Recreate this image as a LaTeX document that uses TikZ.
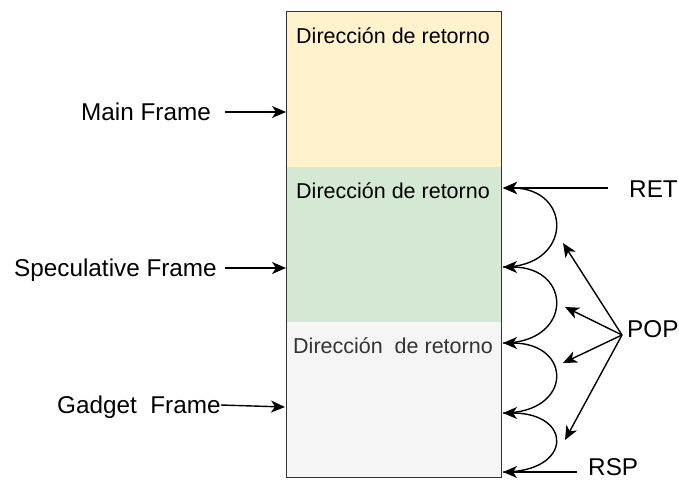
\documentclass[tikz,border=0pt]{standalone}
\usepackage{fontspec}
\setmainfont{Liberation Sans}
\usetikzlibrary{arrows.meta}
\definecolor{frameyellow}{HTML}{FFF2CC}
\definecolor{framegreen}{HTML}{D5E8D4}
\definecolor{framegrey}{HTML}{F5F5F5}
\definecolor{greytext}{HTML}{333333}
\begin{document}
\begin{tikzpicture}[x=1pt,y=-1pt,
  region/.style={draw=none, minimum width=215pt, inner sep=0pt, outer sep=0pt, anchor=north west},
  boxtext/.style={font=\fontsize{21.5}{24}\selectfont, inner sep=0pt, anchor=base},
  tagtext/.style={font=\fontsize{24.3}{28}\selectfont, inner sep=0pt, anchor=base west},
  link/.style={line width=1.4pt, -{Stealth[length=14pt,width=12pt,inset=4pt]}},
]
\useasboundingbox (0,0) rectangle (679,479);

% stack of frames
\node[region, fill=frameyellow, minimum height=156pt] (mainf) at (286,11) {};
\node[region, fill=framegreen, minimum height=155pt] (specf) at (286,167) {};
\node[region, fill=framegrey, minimum height=155pt] (gadf) at (286,322) {};
\draw[line width=1pt, draw=black!80] (mainf.north west) rectangle (gadf.south east);

\node[boxtext] (rmain) at (393,43) {Dirección de retorno};
\node[boxtext] (rspec) at (393,198) {Dirección de retorno};
\node[boxtext, text=greytext] (rgad) at (393,353) {Dirección\ \ de retorno};

% frame names on the left
\node[tagtext] (lmain) at (81,120) {Main Frame};
\node[tagtext] (lspec) at (14,276) {Speculative Frame};
\node[tagtext] (lgad) at (57,413) {Gadget\ \ Frame};

\coordinate (amain) at (225,112);
\coordinate (aspec) at (225,268);
\coordinate (agad) at (221,405);
\coordinate (egad) at (285,407);
\draw[link] (amain) -- (amain -| mainf.west);
\draw[link] (aspec) -- (aspec -| specf.west);
\draw[link] (agad) -- (egad);

% stack pointer positions on the right edge
\coordinate (p0) at (503,188);
\coordinate (p1) at (503,267);
\coordinate (p2) at (503,343);
\coordinate (p3) at (503,413);
\coordinate (p4) at (503,472);

\draw[link] (p4) to[out=0,in=0,distance=70pt] (p3);
\draw[link] (p3) to[out=0,in=0,distance=70pt] (p2);
\draw[link] (p2) to[out=0,in=0,distance=70pt] (p1);
\draw[link] (p1) to[out=0,in=0,distance=70pt] (p0);

% instructions
\node[tagtext] (ret) at (629,197) {RET};
\node[tagtext] (pop) at (627,337) {POP};
\node[tagtext] (rsp) at (588,475) {RSP};

\coordinate (retstart) at (608,188);
\coordinate (rspstart) at (577,472);
\draw[link] (retstart) -- (p0);
\draw[link] (rspstart) -- (p4);

\coordinate (popfan) at (622,335);
\coordinate (q1) at (563,243);
\coordinate (q2) at (565,307);
\coordinate (q3) at (563,363);
\coordinate (q4) at (565,440);
\draw[link] (popfan) -- (q1);
\draw[link] (popfan) -- (q2);
\draw[link] (popfan) -- (q3);
\draw[link] (popfan) -- (q4);
\end{tikzpicture}
\end{document}
